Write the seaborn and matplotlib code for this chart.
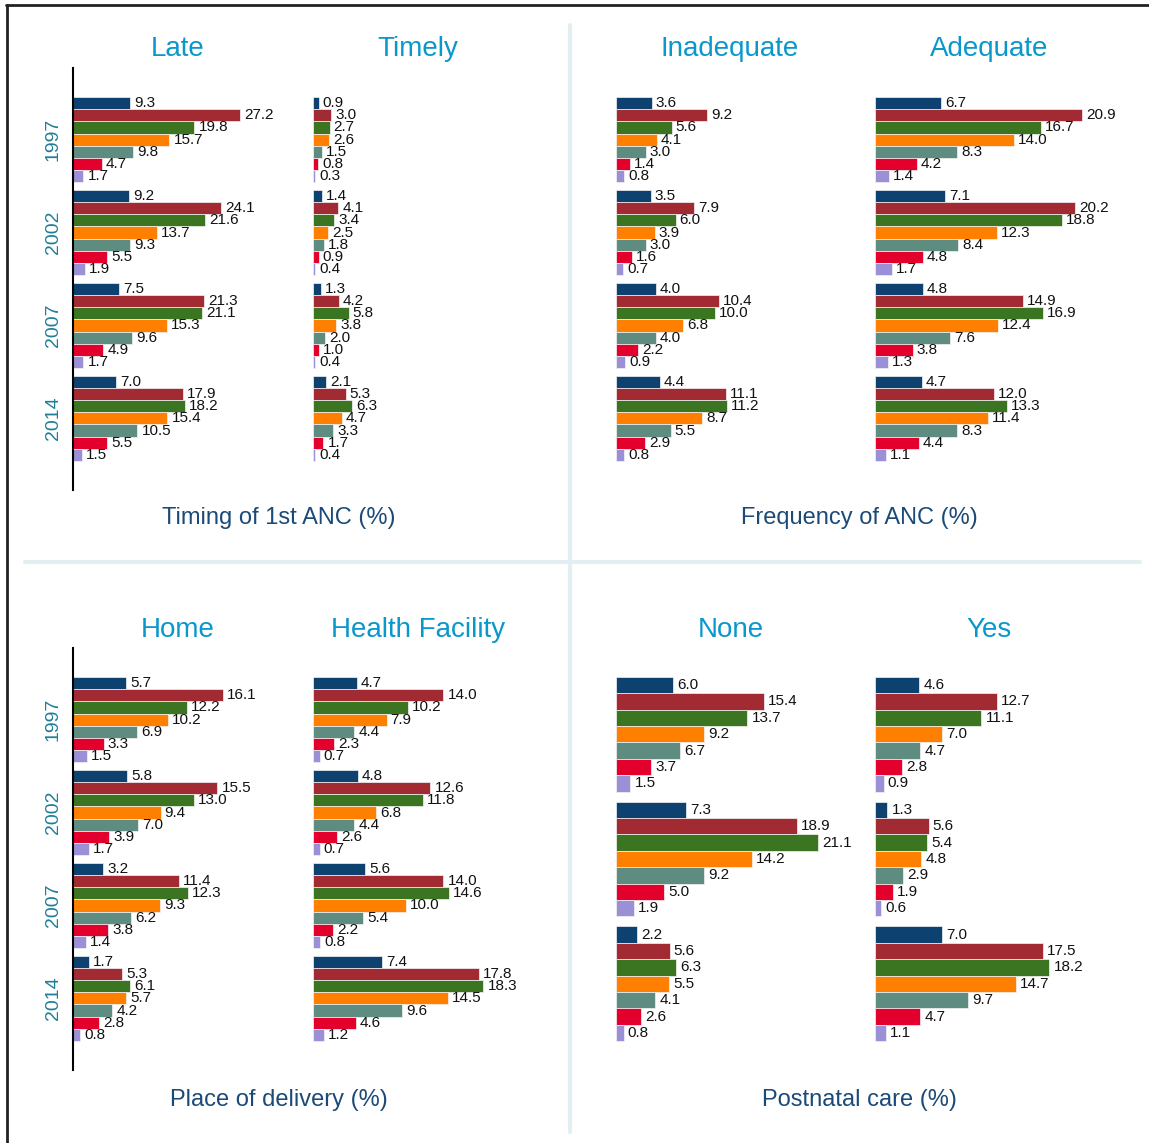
import pandas as pd
import numpy as np
import matplotlib
matplotlib.use("Agg")
import matplotlib.pyplot as plt
import seaborn as sns
from matplotlib.lines import Line2D

sns.set_style("white")
plt.rcParams['font.family'] = ['Liberation Sans', 'DejaVu Sans']

groups = ["G1", "G2", "G3", "G4", "G5", "G6", "G7"]
colors = ["#0d4170", "#a12a33", "#3c7521", "#ff8000", "#5e8c80", "#e3002d", "#9b8fd6"]
years = ["1997", "2002", "2007", "2014"]
pnc_years = ["2002", "2007", "2014"]

late = [[9.3, 27.2, 19.8, 15.7, 9.8, 4.7, 1.7],
        [9.2, 24.1, 21.6, 13.7, 9.3, 5.5, 1.9],
        [7.5, 21.3, 21.1, 15.3, 9.6, 4.9, 1.7],
        [7.0, 17.9, 18.2, 15.4, 10.5, 5.5, 1.5]]
timely = [[0.9, 3.0, 2.7, 2.6, 1.5, 0.8, 0.3],
          [1.4, 4.1, 3.4, 2.5, 1.8, 0.9, 0.4],
          [1.3, 4.2, 5.8, 3.8, 2.0, 1.0, 0.4],
          [2.1, 5.3, 6.3, 4.7, 3.3, 1.7, 0.4]]
inadequate = [[3.6, 9.2, 5.6, 4.1, 3.0, 1.4, 0.8],
              [3.5, 7.9, 6.0, 3.9, 3.0, 1.6, 0.7],
              [4.0, 10.4, 10.0, 6.8, 4.0, 2.2, 0.9],
              [4.4, 11.1, 11.2, 8.7, 5.5, 2.9, 0.8]]
adequate = [[6.7, 20.9, 16.7, 14.0, 8.3, 4.2, 1.4],
            [7.1, 20.2, 18.8, 12.3, 8.4, 4.8, 1.7],
            [4.8, 14.9, 16.9, 12.4, 7.6, 3.8, 1.3],
            [4.7, 12.0, 13.3, 11.4, 8.3, 4.4, 1.1]]
home = [[5.7, 16.1, 12.2, 10.2, 6.9, 3.3, 1.5],
        [5.8, 15.5, 13.0, 9.4, 7.0, 3.9, 1.7],
        [3.2, 11.4, 12.3, 9.3, 6.2, 3.8, 1.4],
        [1.7, 5.3, 6.1, 5.7, 4.2, 2.8, 0.8]]
facility = [[4.7, 14.0, 10.2, 7.9, 4.4, 2.3, 0.7],
            [4.8, 12.6, 11.8, 6.8, 4.4, 2.6, 0.7],
            [5.6, 14.0, 14.6, 10.0, 5.4, 2.2, 0.8],
            [7.4, 17.8, 18.3, 14.5, 9.6, 4.6, 1.2]]
pnc_none = [[6.0, 15.4, 13.7, 9.2, 6.7, 3.7, 1.5],
            [7.3, 18.9, 21.1, 14.2, 9.2, 5.0, 1.9],
            [2.2, 5.6, 6.3, 5.5, 4.1, 2.6, 0.8]]
pnc_yes = [[4.6, 12.7, 11.1, 7.0, 4.7, 2.8, 0.9],
           [1.3, 5.6, 5.4, 4.8, 2.9, 1.9, 0.6],
           [7.0, 17.5, 18.2, 14.7, 9.7, 4.7, 1.1]]


def to_long(values, yrs):
    rows = []
    for yr, vals in zip(yrs, values):
        for g, v in zip(groups, vals):
            rows.append({"year": yr, "group": g, "value": v})
    return pd.DataFrame(rows)


W, H = 1149, 1143
fig = plt.figure(figsize=(W / 100, H / 100), dpi=100)

title_col = "#0a98cc"
label_col = "#1b4a78"
year_col = "#1f7f96"


def panel(values, yrs, x0, y0, width, xmax, spine=False):
    ax = fig.add_axes([x0 / W, 1 - (y0 + 422) / H, width / W, 422 / H])
    df = to_long(values, yrs)
    n = len(yrs)
    bw = 0.91 if n == 4 else 0.92
    sns.barplot(data=df, x="value", y="year", hue="group", order=yrs,
                hue_order=groups, palette=colors, orient="h", width=bw,
                saturation=1, legend=False, ax=ax,
                edgecolor="#f4f4f4", linewidth=0.5)
    for c in ax.containers:
        ax.bar_label(c, fmt="%.1f", padding=3, fontsize=11, color="#111111")
    ax.set_xlim(0, xmax)
    margin = 0.77 if n == 4 else 0.69
    ax.set_ylim(n - 1 + margin, -margin)
    ax.set_xticks([])
    ax.set_xlabel("")
    ax.set_ylabel("")
    for s in ["top", "right", "bottom"]:
        ax.spines[s].set_visible(False)
    if spine:
        ax.spines["left"].set_visible(True)
        ax.spines["left"].set_color("black")
        ax.spines["left"].set_linewidth(1.5)
        ax.tick_params(axis="y", length=0, pad=8)
        ax.set_yticks(range(n))
        ax.set_yticklabels(yrs, rotation=90, va="center", fontsize=14, color=year_col)
    else:
        ax.spines["left"].set_visible(False)
        ax.set_yticks([])
    ax.patch.set_alpha(0)
    return ax


# top-left: timing of 1st ANC
panel(late, years, 73, 68, 230, 37.5, spine=True)
panel(timely, years, 313, 68, 230, 37.5)
# top-right: frequency of ANC
panel(inadequate, years, 616, 68, 250, 25.2)
panel(adequate, years, 875, 68, 250, 25.2)
# bottom-left: place of delivery
panel(home, years, 73, 648, 230, 24.7, spine=True)
panel(facility, years, 313, 648, 230, 24.7)
# bottom-right: postnatal care
panel(pnc_none, pnc_years, 616, 648, 250, 26.1)
panel(pnc_yes, pnc_years, 875, 648, 250, 26.1)

titles = [("Late", 178, 49), ("Timely", 418, 49), ("Inadequate", 730, 49), ("Adequate", 989, 49),
          ("Home", 178, 630), ("Health Facility", 418, 630), ("None", 731, 630), ("Yes", 989, 630)]
for t, x, y in titles:
    fig.text(x / W, 1 - y / H, t, ha="center", va="center", fontsize=20, color=title_col)

bottoms = [("Timing of 1st ANC (%)", 279, 518), ("Frequency of ANC (%)", 859, 518),
           ("Place of delivery (%)", 279, 1100), ("Postnatal care (%)", 859, 1100)]
for t, x, y in bottoms:
    fig.text(x / W, 1 - y / H, t, ha="center", va="center", fontsize=17, color=label_col)

# dividers and frame
div = "#e2eef1"
fig.add_artist(Line2D([570 / W, 570 / W], [1 - 25 / H, 1 - 1132 / H], color=div, lw=3))
fig.add_artist(Line2D([25 / W, 1140 / W], [1 - 562 / H, 1 - 562 / H], color=div, lw=3))
fig.add_artist(Line2D([6 / W, 1], [1 - 5 / H, 1 - 5 / H], color="#222222", lw=2))
fig.add_artist(Line2D([7 / W, 7 / W], [1 - 5 / H, 0], color="#222222", lw=2))

fig.savefig("out.png", dpi=100, facecolor="white")
